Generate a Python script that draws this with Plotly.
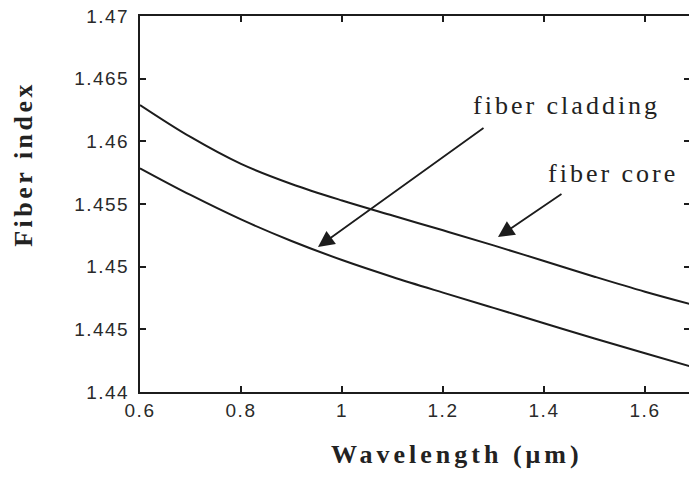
import plotly.graph_objects as go

# Wavelength grid (um) and refractive indices of the two fibre regions
wavelength = [0.6, 0.7, 0.8, 0.9, 1.0, 1.1, 1.2, 1.3, 1.4, 1.5, 1.6, 1.7]
core_index = [1.4629, 1.46035, 1.4582, 1.4566, 1.45528, 1.45408, 1.4529,
              1.4517, 1.45045, 1.4492, 1.448, 1.4469]
cladding_index = [1.45785, 1.45572, 1.45377, 1.45205, 1.45053, 1.44918,
                  1.44793, 1.44671, 1.44549, 1.44427, 1.44309, 1.44193]

x_ticks = [0.6, 0.8, 1.0, 1.2, 1.4, 1.6]
x_tick_text = ["0.6", "0.8", "1", "1.2", "1.4", "1.6"]
y_ticks = [1.44, 1.445, 1.45, 1.455, 1.46, 1.465, 1.47]
y_tick_text = ["1.44", "1.445", "1.45", "1.455", "1.46", "1.465", "1.47"]

INK = "#1c1c1c"
SANS = "Liberation Sans, Arial, sans-serif"
SERIF = "Liberation Serif, Times New Roman, serif"


def spaced(text, px):
    return f'<span style="letter-spacing:{px}px">{text}</span>'


fig = go.Figure()
for name, vals in (("fiber core", core_index), ("fiber cladding", cladding_index)):
    fig.add_trace(go.Scatter(
        x=wavelength, y=vals, mode="lines", name=name,
        line=dict(color=INK, width=2, shape="spline"),
        hoverinfo="skip", showlegend=False,
    ))

axis_common = dict(
    showgrid=False, zeroline=False, ticks="inside", ticklen=6,
    tickwidth=1.5, tickcolor=INK, linecolor=INK, linewidth=2, showline=True,
    tickfont=dict(family=SANS, size=19, color="#2a2a2a"),
)

fig.update_layout(
    width=689, height=482,
    margin=dict(l=140, r=0, t=16, b=90),
    paper_bgcolor="white", plot_bgcolor="white",
    xaxis=dict(
        range=[0.6, 0.6 + 549 / 505], tickvals=x_ticks,
        ticktext=[spaced(t, 1.5) for t in x_tick_text],
        mirror="ticks", ticklabelstandoff=0, **axis_common,
    ),
    yaxis=dict(
        range=[1.44, 1.47], tickvals=y_ticks,
        ticktext=[spaced(t, 1.5) for t in y_tick_text],
        mirror=False, ticklabelstandoff=5, **axis_common,
    ),
    yaxis2=dict(
        overlaying="y", side="right", anchor="x", range=[1.44, 1.47],
        tickvals=y_ticks, ticks="inside", ticklen=5, tickwidth=1.5,
        tickcolor=INK, showticklabels=False, showline=False,
        showgrid=False, zeroline=False,
    ),
)

# right-hand tick marks live on a secondary axis with no line
fig.add_trace(go.Scatter(x=[wavelength[0]], y=[core_index[0]], yaxis="y2",
                         mode="lines", line=dict(width=0), hoverinfo="skip",
                         showlegend=False))

# axis titles
fig.add_annotation(text=spaced("<b>Wavelength (μm)</b>", 4), xref="paper", yref="paper",
                   x=0.578, y=-0.21, showarrow=False,
                   font=dict(family=SERIF, size=26, color="#222"))
fig.add_annotation(text=spaced("<b>Fiber index</b>", 3.5), xref="paper", yref="paper",
                   x=-0.242, y=0.606, textangle=-90, showarrow=False,
                   font=dict(family=SERIF, size=26, color="#222"))

# curve labels with arrows
label_font = dict(family=SERIF, size=26, color="#222")
fig.add_annotation(text=spaced("fiber cladding", 3), x=1.4436, y=1.46282,
                   showarrow=False, font=label_font)
fig.add_annotation(text=spaced("fiber core", 3), x=1.5366, y=1.45747,
                   showarrow=False, font=label_font)
fig.add_annotation(x=0.9525, y=1.45157, ax=167, ay=-120, text="",
                   showarrow=True, arrowhead=2, arrowsize=1.8, arrowwidth=1.8,
                   arrowcolor=INK)
fig.add_annotation(x=1.3089, y=1.45236, ax=65, ay=-44, text="",
                   showarrow=True, arrowhead=2, arrowsize=1.8, arrowwidth=1.8,
                   arrowcolor=INK)

fig.write_html("out.html")
